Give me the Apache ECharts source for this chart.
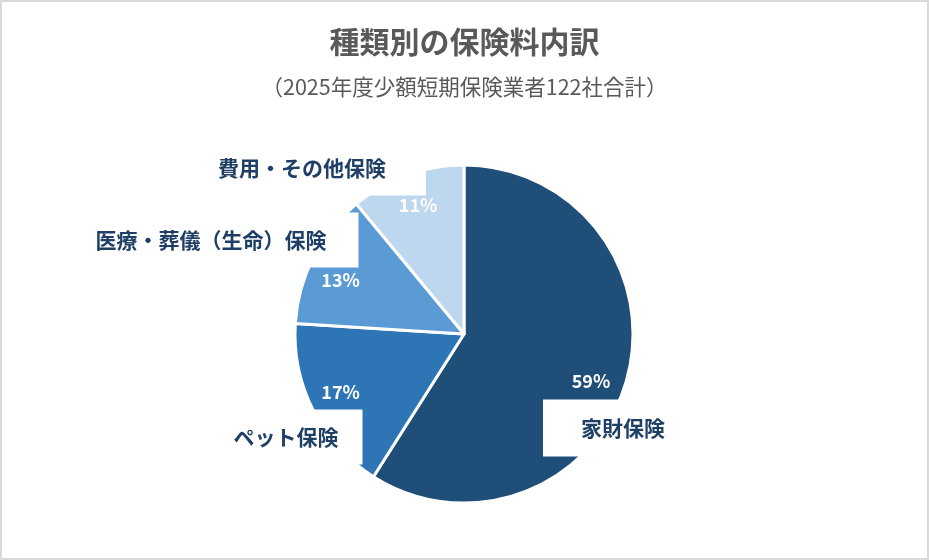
<!DOCTYPE html>
<html>
<head>
<meta charset="utf-8">
<script src="https://cdn.jsdelivr.net/npm/echarts@6/dist/echarts.min.js"></script>
<style>
html,body{margin:0;padding:0;background:#fff;}
#wrap{width:929px;height:560px;box-sizing:border-box;border:2px solid #d9d9d9;position:relative;}
#chart{position:absolute;left:-2px;top:-2px;width:929px;height:560px;}
</style>
</head>
<body>
<div id="wrap"><div id="chart"></div></div>
<script>
const titleText = '種類別の保険料内訳';
const subtitleText = '（2025年度少額短期保険業者122社合計）';
const categories = ['家財保険', 'ペット保険', '医療・葬儀（生命）保険', '費用・その他保険'];
const shares = [59, 17, 13, 11];

const sliceColors = ['#1F4E79', '#2E75B6', '#5B9BD5', '#BDD7EE'];
const nameBoxCenters = [[623, 428], [286, 437], [211, 240], [302, 168]];
const nameBoxPadding = [[18, 38], [17, 24], [17, 32], [17, 40]];
const pctLabelShift = [[-6, 9], [0, -5], [0, 9], [1, 1]];
const font = '"Noto Sans CJK JP", "Noto Sans", sans-serif';

const chart = echarts.init(document.getElementById('chart'), null, {renderer: 'canvas'});
const center = [464, 334];

chart.setOption({
  backgroundColor: 'rgba(0,0,0,0)',
  animation: false,
  title: [
    {text: titleText, left: 'center', top: 22,
     textStyle: {fontFamily: font, fontSize: 30, fontWeight: 'bold', color: '#595959'}},
    {text: subtitleText, left: 'center', top: 71,
     textStyle: {fontFamily: font, fontSize: 21.5, fontWeight: 'normal', color: '#595959'}}
  ],
  series: [
    {
      type: 'pie', center: center, radius: 169, startAngle: 90, clockwise: true,
      silent: true, z: 2, avoidLabelOverlap: false,
      label: {show: false}, labelLine: {show: false},
      itemStyle: {borderColor: '#fff', borderWidth: 3},
      data: categories.map((n, i) => ({name: n, value: shares[i], itemStyle: {color: sliceColors[i]}}))
    },
    {
      type: 'pie', center: center, radius: 169, startAngle: 90, clockwise: true,
      silent: true, z: 5, avoidLabelOverlap: false,
      itemStyle: {color: 'rgba(0,0,0,0)', borderWidth: 0},
      labelLine: {show: false},
      label: {show: true, position: 'outside', formatter: '{b}',
        fontFamily: font, fontSize: 21, fontWeight: 'bold', color: '#1F3F66',
        backgroundColor: '#fff'},
      labelLayout: p => ({
        x: nameBoxCenters[p.dataIndex][0], y: nameBoxCenters[p.dataIndex][1],
        align: 'center', verticalAlign: 'middle'
      }),
      data: categories.map((n, i) => ({name: n, value: shares[i],
        label: {padding: nameBoxPadding[i]}}))
    },
    {
      type: 'pie', center: center, radius: [102, 169], startAngle: 90, clockwise: true,
      silent: true, z: 6, avoidLabelOverlap: false,
      itemStyle: {color: 'rgba(0,0,0,0)', borderWidth: 0},
      labelLine: {show: false},
      label: {show: true, position: 'inside', formatter: p => p.value + '%',
        fontFamily: font, fontSize: 18, fontWeight: 'bold', color: '#fff'},
      labelLayout: p => ({dx: pctLabelShift[p.dataIndex][0], dy: pctLabelShift[p.dataIndex][1]}),
      data: categories.map((n, i) => ({name: n, value: shares[i]}))
    }
  ]
});
</script>
</body>
</html>
